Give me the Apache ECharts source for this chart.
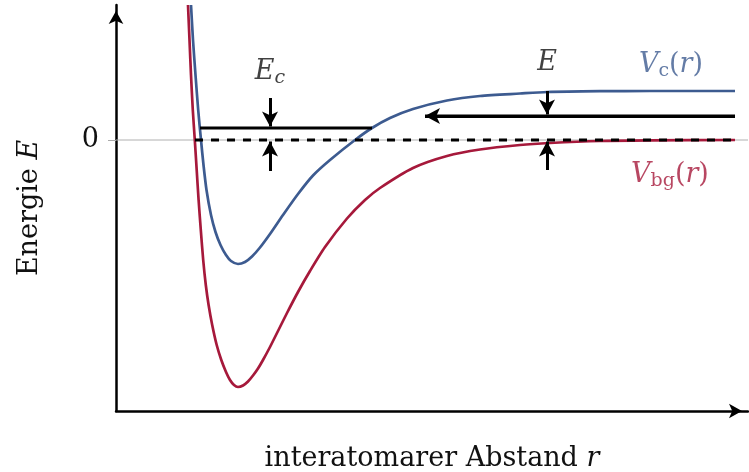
<!DOCTYPE html>
<html>
<head>
<meta charset="utf-8">
<script src="https://cdn.jsdelivr.net/npm/echarts@6/dist/echarts.min.js"></script>
<style>
  html, body { margin: 0; padding: 0; background: #ffffff; }
  #chart { width: 749px; height: 472px; }
</style>
</head>
<body>
<div id="chart"></div>
<script>
// Interatomic distance r and potential energy V (arbitrary units).
// Open (background) channel potential V_bg(r)
const rBg = [0.72, 0.735, 0.75, 0.768, 0.788, 0.807, 0.826, 0.848, 0.872, 0.898, 0.926, 0.962, 1.007, 1.053, 1.10, 1.14, 1.18, 1.22,
             1.27, 1.32, 1.37, 1.42, 1.47, 1.54, 1.62, 1.71, 1.82, 1.94, 2.09, 2.31, 2.49, 2.64, 2.97, 3.31, 3.64, 4.04, 4.34, 4.84, 5.34, 6.19];
const vBg = [1.35, 1.00, 0.65, 0.30, 0.00, -0.30, -0.60, -0.90, -1.20, -1.45, -1.65, -1.85, -2.05, -2.20, -2.32, -2.40, -2.45, -2.47,
             -2.455, -2.415, -2.355, -2.285, -2.20, -2.07, -1.91, -1.73, -1.52, -1.31, -1.07, -0.785, -0.60, -0.48, -0.28, -0.16, -0.095, -0.05, -0.03, -0.01, -0.004, 0.00];
// Closed channel potential V_c(r)
const rC = [0.75, 0.77, 0.795, 0.822, 0.85, 0.875, 0.905, 0.95, 0.995, 1.045, 1.10, 1.15, 1.22,
            1.29, 1.36, 1.44, 1.54, 1.67, 1.82, 1.97, 2.14, 2.39, 2.56, 2.74, 2.97, 3.31, 3.64, 4.04, 4.31, 4.84, 5.34, 6.19];
const vC = [1.35, 1.00, 0.65, 0.30, 0.00, -0.25, -0.50, -0.75, -0.92, -1.05, -1.15, -1.21, -1.24,
            -1.22, -1.165, -1.075, -0.94, -0.75, -0.54, -0.355, -0.20, 0.00, 0.12, 0.22, 0.31, 0.395, 0.44, 0.465, 0.48, 0.488, 0.49, 0.49];

// Energy levels
const E_C = 0.12;      // bound state of the closed channel
const E_IN = 0.24;     // energy of the incoming atom pair
const V_C_INF = 0.49;  // threshold of the closed channel
const yTickValues = [0];

// Horizontal extents of the level lines (r)
const axisRange = [0, 6.32];
const boundRange = [0.84, 2.56];
const zeroRange = [0.79, 6.19];
const incomingRange = [6.19, 3.09];
const rEc = 1.54;  // where E_c is marked
const rE = 4.31;   // where E is marked

const BLUE = '#3d5b90';
const RED = '#a6193b';
const INK = '#111111';
const SERIF = 'DejaVu Serif';

const pairs = (xs, ys) => xs.map((x, i) => [x, ys[i]]);

const richFor = (color) => ({
  n: { fontFamily: SERIF, fontSize: 27, color: color, lineHeight: 31 },
  i: { fontFamily: SERIF, fontSize: 27, color: color, fontStyle: 'italic', lineHeight: 31 },
  s: { fontFamily: SERIF, fontSize: 19, color: color, lineHeight: 14, verticalAlign: 'bottom' },
  si: { fontFamily: SERIF, fontSize: 19, color: color, fontStyle: 'italic', lineHeight: 14, verticalAlign: 'bottom' }
});

const arrowLine = (from, to) => [
  { coord: from, symbol: 'none' },
  { coord: to, symbol: 'arrow' }
];

const chart = echarts.init(document.getElementById('chart'));
chart.setOption({
  animation: false,
  backgroundColor: '#ffffff',
  grid: { left: 116, right: 1, top: 5, bottom: 61, containLabel: false, outerBoundsMode: 'none' },
  xAxis: {
    type: 'value',
    min: axisRange[0],
    max: axisRange[1],
    name: '{n|interatomarer Abstand }{i|r}',
    nameLocation: 'middle',
    nameGap: 32,
    nameTextStyle: { rich: richFor(INK) },
    axisLine: {
      onZero: false,
      lineStyle: { color: '#000', width: 2.5 },
      symbol: ['none', 'arrow'],
      symbolSize: [11, 13],
      symbolOffset: [0, -6]
    },
    axisTick: { show: false },
    axisLabel: { show: false },
    splitLine: { show: false }
  },
  yAxis: {
    type: 'value',
    min: -2.71,
    max: 1.35,
    name: '{n|Energie }{i|E}',
    nameLocation: 'middle',
    nameGap: 71,
    nameRotate: 90,
    nameTextStyle: { rich: richFor(INK) },
    axisLine: {
      lineStyle: { color: '#000', width: 2.5 },
      symbol: ['none', 'arrow'],
      symbolSize: [11, 13],
      symbolOffset: [0, -6]
    },
    axisTick: {
      show: true,
      customValues: yTickValues,
      length: 8,
      lineStyle: { color: '#aaaaaa', width: 1 }
    },
    axisLabel: {
      customValues: yTickValues,
      margin: 17,
      fontFamily: SERIF,
      fontSize: 27,
      color: INK
    },
    splitLine: { show: false }
  },
  series: [
    {
      name: 'zero reference',
      type: 'line',
      data: [[axisRange[0], 0], [axisRange[1], 0]],
      showSymbol: false,
      silent: true,
      lineStyle: { color: '#b0b0b0', width: 1 },
      z: 1
    },
    {
      name: 'V_bg',
      type: 'line',
      data: pairs(rBg, vBg),
      smooth: 0.25,
      showSymbol: false,
      clip: true,
      lineStyle: { color: RED, width: 2.7 },
      z: 2
    },
    {
      name: 'V_c',
      type: 'line',
      data: pairs(rC, vC),
      smooth: 0.25,
      showSymbol: false,
      clip: true,
      lineStyle: { color: BLUE, width: 2.7 },
      z: 3
    },
    {
      name: 'zero',
      type: 'line',
      data: [[zeroRange[0], 0], [zeroRange[1], 0]],
      showSymbol: false,
      lineStyle: { color: '#000', width: 3, type: [8, 8] },
      z: 4
    },
    {
      name: 'bound',
      type: 'line',
      data: [[boundRange[0], E_C], [boundRange[1], E_C]],
      showSymbol: false,
      lineStyle: { color: '#000', width: 3 },
      z: 4
    },
    {
      name: 'incoming',
      type: 'line',
      data: [[incomingRange[0], E_IN], [incomingRange[1], E_IN]],
      showSymbol: false,
      lineStyle: { color: '#000', width: 3 },
      markLine: {
        silent: true,
        symbolSize: [12, 15],
        label: { show: false },
        lineStyle: { color: '#000', width: 3, type: 'solid' },
        data: [
          arrowLine([incomingRange[0], E_IN], [incomingRange[1], E_IN]),
          arrowLine([rEc, E_C + 0.30], [rEc, E_C + 0.015]),
          arrowLine([rEc, -0.31], [rEc, -0.015]),
          arrowLine([rE, V_C_INF], [rE, E_IN + 0.015]),
          arrowLine([rE, -0.30], [rE, -0.015])
        ]
      },
      z: 5
    },
    {
      name: 'labels',
      type: 'scatter',
      symbolSize: 0,
      silent: true,
      label: { show: true, position: 'inside' },
      data: [
        { value: [rEc, 0.68], label: { formatter: '{i|E}{si|c}', rich: richFor(INK) } },
        { value: [rE, 0.77], label: { formatter: '{i|E}', rich: richFor(INK) } },
        { value: [5.55, 0.75], label: { formatter: '{i|V}{s|c}{n|(}{i|r}{n|)}', rich: richFor(BLUE) } },
        { value: [5.54, -0.35], label: { formatter: '{i|V}{s|bg}{n|(}{i|r}{n|)}', rich: richFor(RED) } }
      ],
      z: 6
    }
  ]
});
</script>
</body>
</html>
